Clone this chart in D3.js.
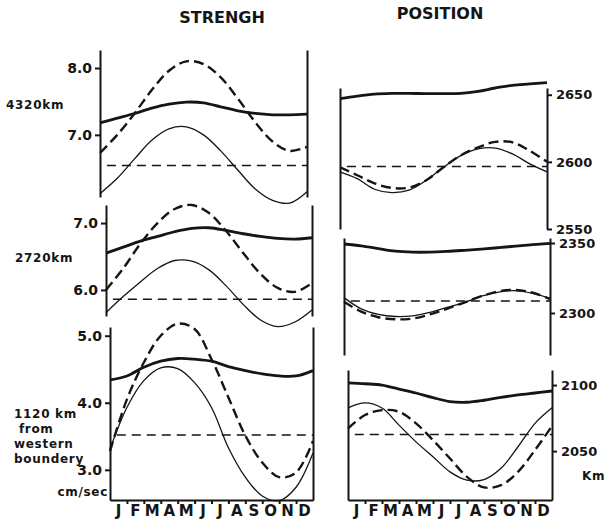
<!DOCTYPE html>
<html lang="en">
<meta charset="utf-8">
<head>
    <title>Strengh and position</title>
    <script src="https://d3js.org/d3.v7.min.js"></script>
    <style>
        body { margin: 0; background: #fff; }
        svg text { font-family: "DejaVu Sans", sans-serif; font-weight: bold; fill: #151515; }
        .frame path.domain, .frame line { stroke: #151515; stroke-width: 2; }
        .frame text { font-size: 14px; }
        .frame.right text { font-size: 13px; }
        .title { font-size: 16px; }
        .side { font-size: 12px; letter-spacing: 0.7px; }
        .month { font-size: 15px; }
        .thick { fill: none; stroke: #151515; stroke-width: 2.8; }
        .thin { fill: none; stroke: #151515; stroke-width: 1.3; }
        .dashed { fill: none; stroke: #151515; stroke-width: 2.4; stroke-dasharray: 10,5; }
        .ref { fill: none; stroke: #151515; stroke-width: 1.5; stroke-dasharray: 9,6; }
    </style>
</head>
<body>
<div id="chart"></div>
<script>
    const monthLabels = ["J", "F", "M", "A", "M", "J", "J", "A", "S", "O", "N", "D"];
    const monthSteps = [0, 1, 2, 3, 4, 5, 6, 7, 8, 9, 10, 11, 12];
    const titles = ["STRENGH", "POSITION"];

    // strengh (cm/sec)
    const str4320Thick = [7.18, 7.25, 7.32, 7.40, 7.46, 7.49, 7.48, 7.42, 7.36, 7.32, 7.30, 7.30, 7.31];
    const str4320Dash  = [6.73, 7.00, 7.32, 7.67, 7.96, 8.10, 8.06, 7.86, 7.54, 7.19, 6.90, 6.76, 6.82];
    const str4320Thin  = [6.12, 6.35, 6.64, 6.92, 7.09, 7.12, 7.00, 6.76, 6.47, 6.19, 6.02, 5.98, 6.15];
    const str4320Ref = 6.54;

    const str2720Thick = [6.55, 6.64, 6.73, 6.80, 6.87, 6.92, 6.93, 6.89, 6.84, 6.80, 6.77, 6.76, 6.78];
    const str2720Dash  = [6.00, 6.32, 6.69, 7.00, 7.21, 7.27, 7.15, 6.88, 6.55, 6.24, 6.03, 5.97, 6.10];
    const str2720Thin  = [5.66, 5.90, 6.12, 6.32, 6.44, 6.43, 6.30, 6.06, 5.78, 5.55, 5.45, 5.52, 5.70];
    const str2720Ref = 5.86;

    const str1120Thick = [4.34, 4.40, 4.53, 4.62, 4.66, 4.65, 4.62, 4.54, 4.48, 4.43, 4.40, 4.40, 4.48];
    const str1120Dash  = [3.28, 4.05, 4.60, 5.00, 5.18, 5.10, 4.65, 4.08, 3.51, 3.11, 2.89, 2.96, 3.43];
    const str1120Thin  = [3.31, 3.93, 4.33, 4.52, 4.51, 4.30, 3.93, 3.33, 2.89, 2.61, 2.54, 2.74, 3.25];
    const str1120Ref = 3.52;

    // position (km)
    const pos4320Thick = [2647, 2649, 2650.5, 2651, 2651, 2650.8, 2650.8, 2651, 2652.5, 2655, 2657, 2658, 2659];
    const pos4320Dash  = [2596, 2590, 2584, 2580.6, 2580.8, 2586.3, 2596, 2604.8, 2610.8, 2614.9, 2614.5, 2608.3, 2600];
    const pos4320Thin  = [2592.6, 2587.5, 2579.6, 2577.1, 2578.9, 2586.3, 2596, 2604.6, 2609.6, 2610.3, 2605.9, 2598.5, 2592.6];
    const pos4320Ref = 2596.5;

    const pos2720Thick = [2349.3, 2348, 2346, 2344.2, 2343.5, 2343.5, 2344, 2344.8, 2345.7, 2346.7, 2347.8, 2348.8, 2349.8];
    const pos2720Dash  = [2308, 2301, 2297, 2295.5, 2296, 2299, 2303, 2307.5, 2312, 2315.5, 2316.5, 2314.5, 2310];
    const pos2720Thin  = [2311, 2303, 2299, 2297.5, 2298, 2300.5, 2304, 2307.5, 2312, 2315, 2316, 2314, 2310.5];
    const pos2720Ref = 2308.5;

    const pos1120Thick = [2101.7, 2101, 2100, 2097, 2094, 2090.5, 2087.5, 2087, 2088.5, 2090.7, 2092.5, 2094, 2095.5];
    const pos1120Dash  = [2067.2, 2077.3, 2081, 2079.8, 2071, 2058.3, 2044.4, 2030.5, 2022.5, 2024.2, 2034.3, 2050.8, 2069];
    const pos1120Thin  = [2082.8, 2086.5, 2082.6, 2069.7, 2057, 2045.7, 2034.3, 2028, 2028.5, 2037, 2053.3, 2071, 2082.8];
    const pos1120Ref = 2062.6;

    const strTicks = [[8.0, 7.0], [7.0, 6.0], [5.0, 4.0, 3.0]];
    const posTicks = [[2650, 2600, 2550], [2350, 2300], [2100, 2050]];
    const distLabels = [["4320km"], ["2720km"], ["1120 km", " from", "western", "boundery"]];

    // xr/yr = pixel box of each panel, yd = value at top and bottom of the box
    let panels = [
        {col: 0, row: 0, xr: [100, 307], yr: [50, 197], yd: [8.27, 6.07], ticks: strTicks[0],
            thick: str4320Thick, dash: str4320Dash, thin: str4320Thin, ref: str4320Ref},
        {col: 0, row: 1, xr: [106, 312], yr: [205, 316], yd: [7.27, 5.61], ticks: strTicks[1],
            thick: str2720Thick, dash: str2720Dash, thin: str2720Thin, ref: str2720Ref},
        {col: 0, row: 2, xr: [110, 313], yr: [327, 500], yd: [5.13, 2.55], ticks: strTicks[2],
            thick: str1120Thick, dash: str1120Dash, thin: str1120Thin, ref: str1120Ref},
        {col: 1, row: 0, xr: [340, 547], yr: [88, 229], yd: [2655, 2550], ticks: posTicks[0],
            thick: pos4320Thick, dash: pos4320Dash, thin: pos4320Thin, ref: pos4320Ref},
        {col: 1, row: 1, xr: [344, 550], yr: [238, 355], yd: [2353.6, 2270], ticks: posTicks[1],
            thick: pos2720Thick, dash: pos2720Dash, thin: pos2720Thin, ref: pos2720Ref},
        {col: 1, row: 2, xr: [348, 552], yr: [370, 500], yd: [2111.4, 2013], ticks: posTicks[2],
            thick: pos1120Thick, dash: pos1120Dash, thin: pos1120Thin, ref: pos1120Ref}
    ];

    let svg = d3.select("#chart").append("svg")
        .attr("width", 604)
        .attr("height", 524);

    svg.selectAll(".title")
        .data(titles)
        .enter().append("text")
        .attr("class", "title")
        .attr("text-anchor", "middle")
        .attr("x", (d, i) => i === 0 ? 222 : 440)
        .attr("y", (d, i) => i === 0 ? 23 : 19)
        .text(d => d);

    panels.forEach(function(p) {
        let x = d3.scaleLinear().domain([0, 12]).range(p.xr);
        let y = d3.scaleLinear().domain(p.yd).range(p.yr);
        let g = svg.append("g");

        let leftAxis = d3.axisLeft(y).tickSize(5).tickSizeOuter(0).tickPadding(3);
        let rightAxis = d3.axisRight(y).tickSize(5).tickSizeOuter(0).tickPadding(4);
        if (p.col === 0) {
            leftAxis.tickValues(p.ticks).tickFormat(d3.format(".1f"));
            rightAxis.tickValues([]);
        } else {
            leftAxis.tickValues([]);
            rightAxis.tickValues(p.ticks).tickFormat(d3.format("d"));
        }
        g.append("g")
            .attr("class", "frame")
            .attr("transform", "translate(" + p.xr[0] + ",0)")
            .call(leftAxis);
        g.append("g")
            .attr("class", "frame right")
            .attr("transform", "translate(" + p.xr[1] + ",0)")
            .call(rightAxis);

        if (p.row === 2) {
            let bottomAxis = d3.axisBottom(x)
                .tickValues(monthSteps.slice(1, 12))
                .tickSize(4).tickSizeOuter(0)
                .tickFormat("");
            g.append("g")
                .attr("class", "frame")
                .attr("transform", "translate(0," + p.yr[1] + ")")
                .call(bottomAxis);
            g.selectAll(".month")
                .data(monthLabels)
                .enter().append("text")
                .attr("class", "month")
                .attr("text-anchor", "middle")
                .attr("x", (d, i) => x(i + 0.5))
                .attr("y", p.yr[1] + 16)
                .text(d => d);
        }

        let line = d3.line()
            .x((d, i) => x(monthSteps[i]))
            .y(d => y(d))
            .curve(d3.curveCatmullRom.alpha(0.5));

        // mean level, dashed across the box
        g.append("path").attr("class", "ref")
            .attr("d", d3.line().x(d => x(d)).y(y(p.ref))([0.4, 12]));
        g.append("path").attr("class", "thin").attr("d", line(p.thin));
        g.append("path").attr("class", "dashed").attr("d", line(p.dash));
        g.append("path").attr("class", "thick").attr("d", line(p.thick));
    });

    // distance labels at the left of the strengh column
    let labelY = [105, 258, 414];
    distLabels.forEach(function(lines, r) {
        svg.append("g").selectAll("text")
            .data(lines)
            .enter().append("text")
            .attr("class", "side")
            .attr("x", r === 1 ? 15 : (r === 0 ? 6 : 14))
            .attr("y", (d, i) => labelY[r] + 4 + i * 15)
            .attr("xml:space", "preserve")
            .text(d => d);
    });

    svg.append("text")
        .attr("class", "side")
        .attr("text-anchor", "end")
        .attr("x", 108)
        .attr("y", 496)
        .text("cm/sec");

    svg.append("text")
        .attr("class", "side")
        .attr("x", 582)
        .attr("y", 480)
        .text("Km");
</script>
</body>
</html>
